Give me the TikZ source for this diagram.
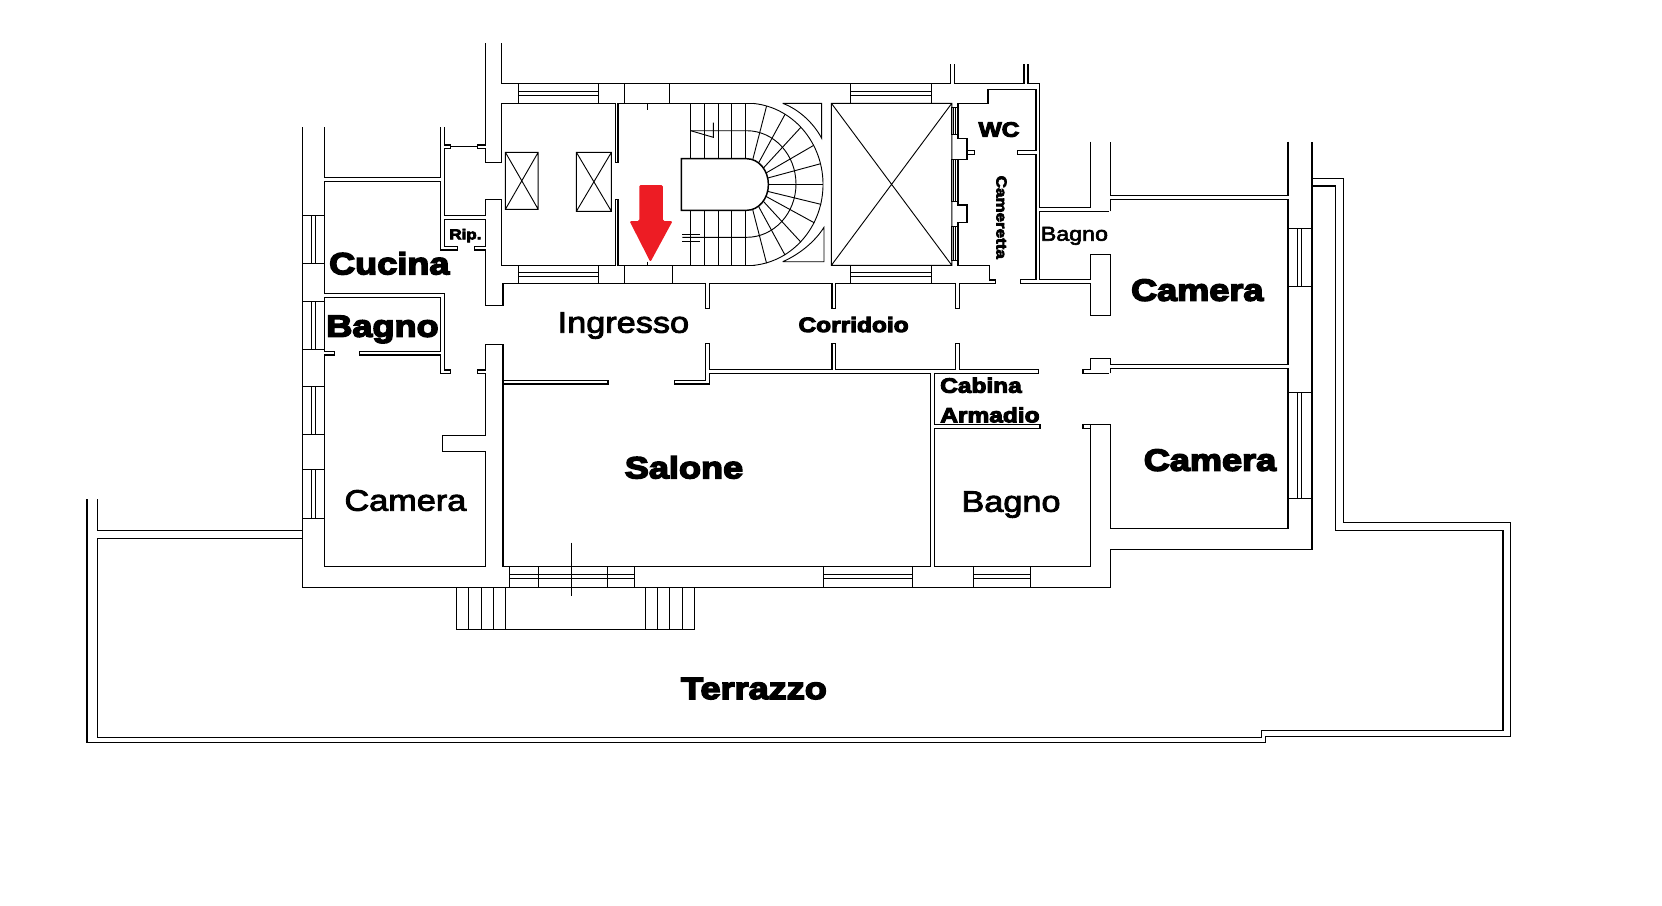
\documentclass[tikz,border=0pt]{standalone}
\usepackage{fontspec}
\setmainfont{Liberation Sans}
\newfontfamily\heavyfont[UprightFont=* Bold,FakeBold=5,FakeStretch=1.18]{Liberation Sans}
\newfontfamily\mediumfont[FakeBold=3,FakeStretch=1.16]{Liberation Sans}
\definecolor{arrowred}{HTML}{ED1C24}
\tikzset{
  wall/.style={line width=0.42pt, line join=miter},
  thinwall/.style={line width=0.26pt},
  room/.style={anchor=base, inner sep=0pt},
  bigheavy/.style={room, font=\heavyfont\fontsize{8.7}{10}\selectfont},
  smallheavy/.style={room, font=\heavyfont\fontsize{5.9}{7}\selectfont},
  tinyheavy/.style={room, font=\heavyfont\fontsize{4.1}{5}\selectfont},
  bigmedium/.style={room, font=\mediumfont\fontsize{8.4}{10}\selectfont},
  smallmedium/.style={room, font=\mediumfont\fontsize{5.7}{7}\selectfont}
}
\begin{document}
\begin{tikzpicture}[x=0.01cm, y=-0.01cm]

    \useasboundingbox (0,0) rectangle (1662,905);

    % terrace
    \draw [wall] (1311.8,178.3) -- (1343.6,178.3) -- (1343.6,522.3) -- (1510.5,522.3) -- (1510.5,736.3) -- (1265.6,736.3) -- (1265.6,742.3) -- (86.9,742.3) -- (86.9,499);
    \draw [wall] (1311.8,186) -- (1335.7,186) -- (1335.7,530.3) -- (1503,530.3) -- (1503,730.3) -- (1261.4,730.3) -- (1261.4,737.3) -- (97.5,737.3) -- (97.5,538.3) -- (302.5,538.3);
    \draw [wall] (97.5,499) -- (97.5,530.3) -- (302.5,530.3);

    % outer walls
    \draw [wall] (302.5,127.3) -- (302.5,587.3) -- (1110.4,587.3) -- (1110.4,549.3) -- (1311.8,549.3) -- (1311.8,141.7);
    \draw [wall] (1288.2,141.7) -- (1288.2,195.3) -- (1110.4,195.3) -- (1110.4,141.7);
    \draw [wall] (1090.4,141.7) -- (1090.4,207.3) -- (1039.3,207.3) -- (1039.3,83.3) -- (1028.2,83.3) -- (1028.2,64);
    \draw [wall] (1023.9,64) -- (1023.9,83.3) -- (954.6,83.3) -- (954.6,64);
    \draw [wall] (950.4,64) -- (950.4,83.3) -- (501.4,83.3) -- (501.4,43.3);
    \draw [wall] (485.4,43.3) -- (485.4,145) -- (477.5,145) -- (477.5,148.3) -- (485.4,148.3) -- (485.4,162.7) -- (501.4,162.7) -- (501.4,103.3) -- (615.7,103.3) -- (615.7,162.7) -- (618.2,162.7) -- (618.2,103.3) -- (753.3,103.3);
    \draw [wall] (324.3,127.3) -- (324.3,177.7) -- (440.7,177.7) -- (440.7,127.3);
    \draw [wall] (444.3,127.3) -- (444.3,145) -- (450.7,145) -- (450.7,148.3) -- (444.3,148.3) -- (444.3,215.3) -- (485.4,215.3) -- (485.4,199.3) -- (501.4,199.3) -- (501.4,265.3) -- (615.7,265.3) -- (615.7,199.3) -- (618.2,199.3) -- (618.2,265.3) -- (755,265.3);
    \draw [thinwall] (450.7,146.7) -- (477.5,146.7);

    % inner walls, going round from the kitchen
    \draw [wall] (324.3,181.7) -- (440.7,181.7) -- (440.7,250) -- (457.5,250) -- (457.5,246.7) -- (444.3,246.7) -- (444.3,219.3) -- (485.4,219.3) -- (485.4,246.7) -- (474.3,246.7) -- (474.3,250) -- (485.4,250) -- (485.4,305.3) -- (503.2,305.3) -- (503.2,283.3) -- (705.7,283.3) -- (705.7,308.3) -- (709.3,308.3) -- (709.3,283.3) -- (832.1,283.3) -- (832.1,308.3) -- (835.7,308.3) -- (835.7,283.3) -- (955.7,283.3) -- (955.7,308.3) -- (959.3,308.3) -- (959.3,283.3) -- (995.7,283.3) -- (995.7,280) -- (989.3,280) -- (989.3,265.3) -- (958.2,265.3) -- (958.2,222.7) -- (966.8,222.7) -- (966.8,205) -- (958.2,205) -- (958.2,159.3) -- (966.8,159.3) -- (966.8,138.3) -- (958.2,138.3) -- (958.2,103.3) -- (988.2,103.3) -- (988.2,89.7) -- (1036.1,89.7) -- (1036.1,150.7) -- (1017.5,150.7) -- (1017.5,154.3) -- (1036.1,154.3) -- (1036.1,279.3) -- (1020.4,279.3) -- (1020.4,283.3) -- (1090.4,283.3) -- (1090.4,315.7) -- (1110.4,315.7) -- (1110.4,254.3) -- (1090.4,254.3) -- (1090.4,279.3) -- (1039.3,279.3) -- (1039.3,211.3) -- (1109.3,211.3);
    \draw [wall] (1110.4,211.3) -- (1110.4,199.3) -- (1288.2,199.3) -- (1288.2,364.3) -- (1110.4,364.3) -- (1110.4,358.3) -- (1090.4,358.3) -- (1090.4,369.3) -- (1083.2,369.3) -- (1083.2,373.3) -- (1109.3,373.3);
    \draw [wall] (1110.4,373.3) -- (1110.4,368.3) -- (1288.2,368.3) -- (1288.2,528.3) -- (1110.4,528.3) -- (1110.4,424.3) -- (1090.4,424.3) -- (1090.4,566.7) -- (934.3,566.7) -- (934.3,428.3) -- (1040,428.3) -- (1040,424.3) -- (934.3,424.3) -- (934.3,373.3) -- (1038.6,373.3) -- (1038.6,369.3) -- (959.3,369.3) -- (959.3,343.3) -- (955.7,343.3) -- (955.7,369.3) -- (835.7,369.3) -- (835.7,343.3) -- (832.1,343.3) -- (832.1,369.3) -- (709.3,369.3) -- (709.3,343.3) -- (705.7,343.3) -- (705.7,380.7) -- (674.3,380.7) -- (674.3,384) -- (709.3,384) -- (709.3,373.3) -- (930.7,373.3) -- (930.7,566.7) -- (503.2,566.7) -- (503.2,344.3) -- (485.4,344.3) -- (485.4,370) -- (477.5,370) -- (477.5,373.3) -- (485.4,373.3) -- (485.4,435.7) -- (442.5,435.7) -- (442.5,451.7) -- (485.4,451.7) -- (485.4,566.7) -- (324.3,566.7) -- (324.3,355) -- (334.6,355) -- (334.6,351.7) -- (324.3,351.7) -- (324.3,297.3) -- (440.7,297.3) -- (440.7,351.7) -- (359.3,351.7) -- (359.3,355) -- (440.7,355) -- (440.7,373.3) -- (450.7,373.3) -- (450.7,370) -- (444.3,370) -- (444.3,293.3) -- (324.3,293.3) -- (324.3,181.7);
    \draw [wall] (503.2,380.5) -- (608.6,380.5) -- (608.6,384) -- (503.2,384);
    \fill (607,380.5) rectangle (608.6,384);
    \draw [wall] (1090.4,424.3) -- (1083.2,424.3) -- (1083.2,428.3) -- (1090.4,428.3);
    \draw [wall] (966.8,150.7) -- (974.6,150.7) -- (974.6,154.3) -- (966.8,154.3);

    % windows
    \foreach \ya/\yb in {215.3/263.3, 301.3/349.3, 386.7/434.3, 469.3/518.3} {
      \draw [thinwall] (302.5,\ya) rectangle (324.3,\yb) (311.4,\ya) -- (311.4,\yb) (315.7,\ya) -- (315.7,\yb);
    }
    \foreach \ya/\yb in {228.3/286.7, 392.3/498.3} {
      \draw [thinwall] (1288.2,\ya) rectangle (1311.8,\yb) (1297.9,\ya) -- (1297.9,\yb) (1301.8,\ya) -- (1301.8,\yb);
    }
    \foreach \xa/\xb in {518.2/598.9, 850.4/931.4} {
      \draw [thinwall] (\xa,83.3) rectangle (\xb,103.3) (\xa,91) -- (\xb,91) (\xa,95) -- (\xb,95);
      \draw [thinwall] (\xa,265.3) rectangle (\xb,283.3) (\xa,272.3) -- (\xb,272.3) (\xa,276) -- (\xb,276);
    }
    \foreach \xa/\xb in {509.3/634.3, 823.2/912.5, 973.6/1030.7} {
      \draw [thinwall] (\xa,566.7) rectangle (\xb,587.3) (\xa,574.3) -- (\xb,574.3) (\xa,578.3) -- (\xb,578.3);
    }
    \foreach \sx in {538.2, 607.5} {
      \draw [thinwall] (\sx,566.7) -- (\sx,587.3);
    }
    \draw [thinwall] (571.4,542.7) -- (571.4,596);
    \foreach \wa/\wb in {107.3/134.7, 159.3/201.7, 226.7/260.7} {
      \draw [thinwall] (951.8,\wa) rectangle (958.2,\wb) (953.8,\wa) -- (953.8,\wb) (955.9,\wa) -- (955.9,\wb);
    }
    \draw [thinwall] (624.3,83.3) -- (624.3,103.3) (669.3,83.3) -- (669.3,103.3);
    \draw [thinwall] (624.3,265.3) -- (624.3,283.3) (672.1,265.3) -- (672.1,283.3);
    \draw [thinwall] (647.9,103.3) -- (647.9,110) (647.9,261.7) -- (647.9,265.3);

    % front steps
    \draw [thinwall] (456.8,587.3) -- (456.8,629.3) -- (694.3,629.3) -- (694.3,587.3);
    \foreach \sx in {468.2, 481.4, 493.6, 505.7, 645.7, 657.5, 669.3, 682.5} {
      \draw [thinwall] (\sx,587.3) -- (\sx,629.3);
    }

    % lift shafts
    \foreach \xa/\ya/\xb/\yb in {505.4/152.3/538.2/209.3, 576.4/152.3/611.4/211.3, 831.4/103.3/951.8/265.3} {
      \draw [thinwall] (\xa,\ya) rectangle (\xb,\yb) (\xa,\ya) -- (\xb,\yb) (\xa,\yb) -- (\xb,\ya);
    }

    % staircase
    \foreach \sx in {690.7, 704.3, 718.3, 731.7, 745.7} {
      \draw [thinwall] (\sx,103.3) -- (\sx,158.7) (\sx,210.3) -- (\sx,265.3);
    }
    \draw [wall] (746.7,158.7) -- (681.3,158.7) -- (681.3,210.3) -- (746.7,210.3) arc (90:-90:21.7 and 25.8);
    \draw [thinwall] (690.7,130.7) -- (746.7,130.7) arc (-90:90:49.3 and 53.3) -- (682.3,237.3);
    \draw [thinwall] (753,103.4) arc (-85:85:76.7 and 81.3);
    \foreach \aout/\ain in {-75/-74, -60/-57, -45/-40, -29/-27, -15/-15, 0/0, 14/15, 28/27, 45/40, 60/57, 75/74} {
      \draw [thinwall] ({746.7+21.7*cos(\ain)},{184.7+25.8*sin(\ain)}) -- ({746.7+76.7*cos(\aout)},{184.7+81.3*sin(\aout)});
    }
    \draw [thinwall] (782.7,103.3) -- (821.7,103.3) -- (821.7,138.3) .. controls (813,122) and (798,109) .. (782.7,103.3);
    \draw [thinwall] (782.7,261.7) -- (824,261.7) -- (824,227.3) .. controls (814,243) and (798,255) .. (782.7,261.7);
    \draw [thinwall] (690.7,130.7) -- (713.3,137.3) -- (713.3,122.7);
    \draw [thinwall] (682.3,234.3) -- (700,234.3) (682.3,241.3) -- (700,241.3);

    % entrance arrow
    \fill [arrowred, rounded corners=0.4] (639.3,185) -- (662.9,185) -- (662.9,221) -- (672.6,221) -- (650.4,262) -- (629.5,221) -- (639.3,221) -- cycle;

    % labels
    \node [bigheavy] (cucina) at (389.3,274.3) {Cucina};
    \node [bigheavy] (bagnoa) at (382.5,336.7) {Bagno};
    \node [tinyheavy] (rip) at (465.4,239.3) {Rip.};
    \node [bigmedium] (ingresso) at (623.4,332.7) {Ingresso};
    \node [smallheavy] (corridoio) at (853.6,332) {Corridoio};
    \node [smallheavy] (wc) at (999,136.7) {WC};
    \node [tinyheavy, anchor=base, rotate=-90] (cameretta) at (996.5,217.3) {Cameretta};
    \node [smallmedium] (bagnob) at (1074.4,240.7) {Bagno};
    \node [bigheavy] (camerab) at (1197.3,300.7) {Camera};
    \node [smallheavy] (cabina) at (981,392.7) {Cabina};
    \node [smallheavy] (armadio) at (990,422.3) {Armadio};
    \node [bigheavy] (camerac) at (1210,470.7) {Camera};
    \node [bigmedium] (bagnoc) at (1011,511.7) {Bagno};
    \node [bigmedium] (cameraa) at (405.4,510.7) {Camera};
    \node [bigheavy] (salone) at (684,478.3) {Salone};
    \node [bigheavy] (terrazzo) at (754,699) {Terrazzo};

\end{tikzpicture}
\end{document}
